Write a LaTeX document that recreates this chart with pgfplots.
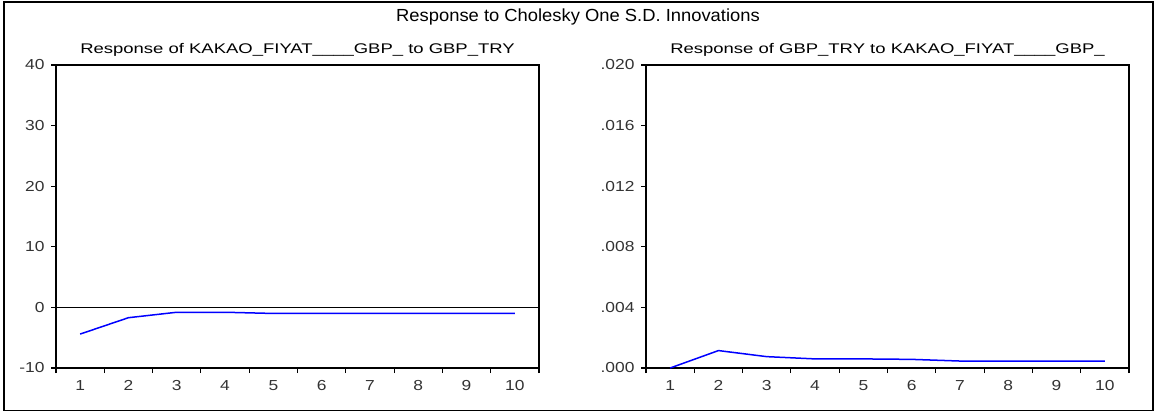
\documentclass[border=0pt]{standalone}
\usepackage{fontspec}
\setmainfont{Liberation Sans}
\usepackage{graphicx}
\usepackage{pgfplots}
\pgfplotsset{compat=1.18}
\newcommand\tickfont{\fontsize{14.5bp}{16bp}\selectfont}
\newcommand\tl[1]{\scalebox{1.2}[1]{#1}}
\pgfplotsset{
  eviews/.style={
    scale only axis, width=483bp, height=303bp,
    xmin=0.5, xmax=10.5,
    xtick={1,...,10},
    xticklabels={\tl{1},\tl{2},\tl{3},\tl{4},\tl{5},\tl{6},\tl{7},\tl{8},\tl{9},\tl{10}},
    major x tick style={draw=none},
    minor xtick={0.5,1.5,...,10.5},
    tick align=outside, xtick pos=bottom, ytick pos=left,
    major tick length=5bp, minor tick length=5bp,
    axis line style={line width=1.1bp},
    every tick/.style={line width=1.1bp, black},
    minor tick style={line width=1.1bp, black},
    scaled y ticks=false,
    xticklabel style={font=\tickfont, text=black!80, yshift=-4bp},
    yticklabel style={font=\tickfont, text=black!80, xshift=-3bp},
    every axis title shift=0pt,
    title style={at={(0.5,1)}, anchor=center, yshift=15bp,
      font=\fontsize{14bp}{16bp}\selectfont},
    clip=false,
  }
}
\begin{document}
\begin{tikzpicture}[x=1bp,y=1bp]
\useasboundingbox (0,0) rectangle (1157,413);
\draw[line width=1.5bp] (4,2.5) rectangle (1153,411);
\node[font=\fontsize{17.5bp}{20bp}\selectfont] at (578,396) {\scalebox{1.05}[1]{Response to Cholesky One S.D. Innovations}};
\begin{axis}[eviews, at={(56bp,45bp)}, anchor=south west,
  title={\scalebox{1.32}[1]{Response of KAKAO\_FIYAT\_\_\_\_GBP\_ to GBP\_TRY}},
  ymin=-10, ymax=40, ytick={-10,0,10,20,30,40},
  yticklabels={\tl{-10},\tl{0},\tl{10},\tl{20},\tl{30},\tl{40}}]
\addplot[black, line width=1.1bp] coordinates {(0.5,0) (10.5,0)};
\addplot[blue, line width=1.5bp] coordinates {
 (1,-4.4) (2,-1.7) (3,-0.8) (4,-0.8) (5,-1.0) (6,-1.0) (7,-1.0) (8,-1.0) (9,-1.0) (10,-1.0)};
\end{axis}
\begin{axis}[eviews, at={(646bp,45bp)}, anchor=south west,
  title={\scalebox{1.32}[1]{Response of GBP\_TRY to KAKAO\_FIYAT\_\_\_\_GBP\_}},
  ymin=0, ymax=0.02, ytick={0,0.004,0.008,0.012,0.016,0.02},
  yticklabels={\tl{.000},\tl{.004},\tl{.008},\tl{.012},\tl{.016},\tl{.020}}]
\addplot[blue, line width=1.5bp] coordinates {
 (1,0) (2,0.00115) (3,0.00075) (4,0.0006) (5,0.0006) (6,0.00057) (7,0.00046) (8,0.00045) (9,0.00045) (10,0.00045)};
\end{axis}
\end{tikzpicture}
\end{document}
